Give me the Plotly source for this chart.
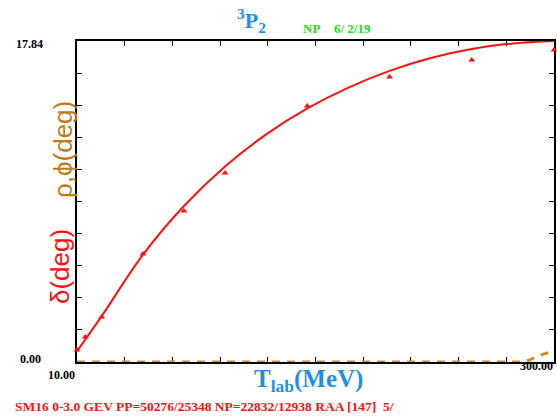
import plotly.graph_objects as go

# 3P2 phase shift, SM16 single-energy values (deg)
t_points = [10, 15, 25, 50, 75, 100, 150, 200, 250, 300]
delta_points = [0.67, 1.39, 2.50, 6.00, 8.39, 10.50, 14.23, 15.84, 16.78, 17.34]

# energy-dependent solution (deg)
t_curve = [10, 25, 50, 75, 100, 125, 150, 175, 200, 225, 250, 275, 300]
delta_curve = [0.60, 2.55, 5.95, 8.67, 10.87, 12.65, 14.09, 15.25, 16.18,
               16.90, 17.40, 17.70, 17.84]

# inelasticity parameter rho (deg)
t_rho = [10, 100, 200, 280, 285, 290, 295, 300]
rho_curve = [0.0, 0.0, 0.0, 0.0, 0.10, 0.33, 0.48, 0.58]

x_range = [10.0, 300.0]
y_range = [0.0, 17.84]

RED = "#ff1010"
BLUE = "#1f8fe6"
GREEN = "#22dd22"
BROWN = "#c07a1c"
ORANGE = "#d08c2a"
SERIF = "Liberation Serif"
SANS = "Liberation Sans"

fig = go.Figure()

fig.add_trace(go.Scatter(
    x=t_rho, y=rho_curve, mode="lines",
    line=dict(color=ORANGE, width=3, dash="8px,7px"),
    hoverinfo="skip", showlegend=False,
))
fig.add_trace(go.Scatter(
    x=t_curve, y=delta_curve, mode="lines",
    line=dict(color=RED, width=2, shape="spline", smoothing=1.0),
    showlegend=False,
))
fig.add_trace(go.Scatter(
    x=t_points, y=delta_points, mode="markers",
    marker=dict(symbol="triangle-up", size=6, color=RED),
    cliponaxis=False, showlegend=False,
))

axis_common = dict(
    showgrid=False, zeroline=False, showline=True, linecolor="black",
    linewidth=1.5, mirror="allticks", ticks="inside", ticklen=5,
    tickwidth=1.2, tickcolor="black", showticklabels=False,
    layer="below traces",
)
fig.update_xaxes(range=x_range, dtick=(x_range[1] - x_range[0]) / 10,
                 tick0=x_range[0], **axis_common)
fig.update_yaxes(range=y_range, dtick=(y_range[1] - y_range[0]) / 10,
                 tick0=y_range[0], **axis_common)

W, H, L, T = 479, 321, 77, 41


def px(xp):
    return (xp - L) / W


def py(yp):
    return (T + H - yp) / H


ann = []
lab_font = dict(family=SERIF, size=12, color="black")
ann.append(dict(text=f"<b>{y_range[1]:.2f}</b>", xref="paper", yref="y",
                x=px(45), y=y_range[1], yshift=-3, xanchor="right",
                yanchor="middle", font=lab_font, showarrow=False))
ann.append(dict(text=f"<b>{y_range[0]:.2f}</b>", xref="paper", yref="y",
                x=px(43), y=y_range[0], yshift=3, xanchor="right",
                yanchor="middle", font=lab_font, showarrow=False))
ann.append(dict(text=f"<b>{x_range[0]:.2f}</b>", xref="x", yref="paper",
                x=x_range[0], y=py(374.5), xanchor="right", yanchor="middle",
                font=lab_font, showarrow=False))
ann.append(dict(text=f"<b>{x_range[1]:.2f}</b>", xref="x", yref="paper",
                x=x_range[1], xshift=1, y=py(366), xanchor="right",
                yanchor="middle", font=lab_font, showarrow=False))

ann.append(dict(text="<b><sup>3</sup>P<sub>2</sub></b>", xref="paper",
                yref="paper", x=px(252), y=py(21), xanchor="center",
                yanchor="middle", font=dict(family=SERIF, size=22, color=BLUE),
                showarrow=False))
ann.append(dict(text="<b>NP</b>", xref="paper", yref="paper", x=px(302),
                y=py(28), xanchor="left", yanchor="middle",
                font=dict(family=SERIF, size=13, color=GREEN), showarrow=False))
ann.append(dict(text="<b>6/ 2/19</b>", xref="paper", yref="paper", x=px(333),
                y=py(28), xanchor="left", yanchor="middle",
                font=dict(family=SERIF, size=13, color=GREEN), showarrow=False))

ann.append(dict(text="<b>T<sub>lab</sub>(MeV)</b>", xref="paper",
                yref="paper", x=px(253), y=py(381), xanchor="left",
                yanchor="middle", font=dict(family=SERIF, size=25, color=BLUE),
                showarrow=False))

ann.append(dict(text="<b>SM16 0-3.0 GEV PP=50276/25348 NP=22832/12938 "
                     "RAA [147]\u00a0\u00a05/</b>",
                xref="paper", yref="paper", x=px(13), y=py(406),
                xanchor="left", yanchor="middle",
                font=dict(family=SERIF, size=13.5, color=RED), showarrow=False))

ann.append(dict(text="\u03b4(deg)", xref="paper", yref="paper", x=px(60),
                y=py(267), xanchor="center", yanchor="middle", textangle=-90,
                font=dict(family=SANS, size=26, color=RED), showarrow=False))
ann.append(dict(text="\u03c1,\u03d5(deg)", xref="paper", yref="paper",
                x=px(63), y=py(150), xanchor="center", yanchor="middle",
                textangle=-90, font=dict(family=SANS, size=26, color=BROWN),
                showarrow=False))

fig.update_layout(
    width=557, height=416,
    margin=dict(l=L, r=557 - L - W, t=T, b=416 - T - H, pad=0),
    paper_bgcolor="white", plot_bgcolor="white",
    annotations=ann, showlegend=False,
)

fig.write_html("out.html")
